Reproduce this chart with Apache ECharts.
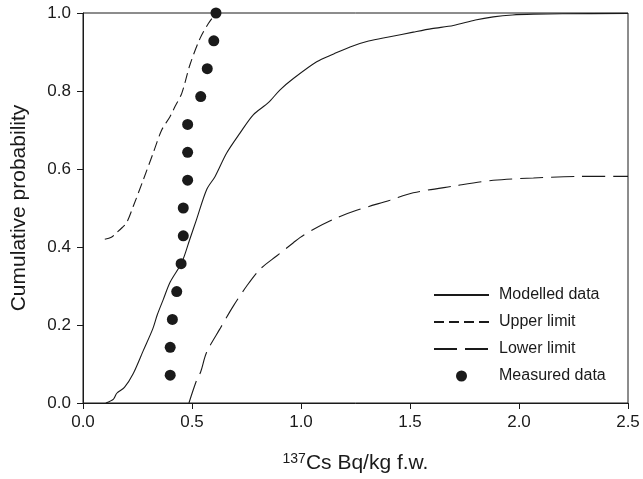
<!DOCTYPE html>
<html>
<head>
<meta charset="utf-8">
<script src="https://cdn.jsdelivr.net/npm/echarts@6/dist/echarts.min.js"></script>
<style>
  html, body { margin: 0; padding: 0; background: #fff; }
  #chart { width: 643px; height: 479px; }
</style>
</head>
<body>
<div id="chart"></div>
<script>
// Cumulative distribution of 137Cs activity: model output, its limits and measurements
var modelledX = [0.105, 0.14, 0.155, 0.19, 0.23, 0.277, 0.32, 0.34, 0.368, 0.40, 0.453, 0.49, 0.521, 0.567, 0.606, 0.659, 0.72, 0.781, 0.85, 0.904, 0.965, 1.072, 1.15, 1.225, 1.31, 1.408, 1.515, 1.60, 1.699, 1.80, 1.882, 1.97, 2.066, 2.2, 2.5];
var modelledY = [0.0, 0.01, 0.025, 0.04, 0.075, 0.135, 0.19, 0.225, 0.265, 0.31, 0.36, 0.42, 0.471, 0.547, 0.581, 0.641, 0.692, 0.739, 0.77, 0.803, 0.832, 0.875, 0.895, 0.913, 0.928, 0.939, 0.951, 0.96, 0.968, 0.982, 0.99, 0.995, 0.997, 0.998, 0.999];

var upperX = [0.1, 0.13, 0.155, 0.18, 0.2, 0.231, 0.277, 0.322, 0.361, 0.399, 0.422, 0.453, 0.491, 0.537, 0.575, 0.61];
var upperY = [0.42, 0.425, 0.437, 0.45, 0.462, 0.505, 0.573, 0.641, 0.70, 0.734, 0.76, 0.794, 0.868, 0.935, 0.973, 1.0];

var lowerX = [0.486, 0.521, 0.54, 0.567, 0.628, 0.69, 0.751, 0.812, 0.888, 0.965, 0.995, 1.056, 1.148, 1.255, 1.408, 1.515, 1.699, 1.882, 2.066, 2.28, 2.5];
var lowerY = [0.0, 0.058, 0.08, 0.13, 0.19, 0.249, 0.30, 0.343, 0.377, 0.411, 0.424, 0.445, 0.471, 0.494, 0.52, 0.539, 0.556, 0.571, 0.577, 0.581, 0.581];

var measuredX = [0.40, 0.40, 0.41, 0.43, 0.45, 0.46, 0.46, 0.48, 0.48, 0.48, 0.54, 0.57, 0.60, 0.61];
var measuredY = [0.0714, 0.1429, 0.2143, 0.2857, 0.3571, 0.4286, 0.5, 0.5714, 0.6429, 0.7143, 0.7857, 0.8571, 0.9286, 1.0];

var xTicks = [0.0, 0.5, 1.0, 1.5, 2.0, 2.5];
var yTicks = [0.0, 0.2, 0.4, 0.6, 0.8, 1.0];

function pairs(xs, ys) {
  return xs.map(function (x, i) { return [x, ys[i]]; });
}

var FONT = 'Liberation Sans, Arial, sans-serif';
var INK = '#1a1a1a';
var hideMarker = { opacity: 0 };

var chart = echarts.init(document.getElementById('chart'), null, { renderer: 'canvas' });

chart.setOption({
  animation: false,
  backgroundColor: '#fff',
  textStyle: { fontFamily: FONT, color: INK },
  grid: {
    left: 83, right: 15, top: 13, bottom: 75,
    show: true, borderColor: INK, borderWidth: 1, backgroundColor: 'transparent'
  },
  legend: {
    orient: 'vertical',
    left: 433,
    top: 287,
    padding: 0,
    itemWidth: 55,
    itemHeight: 11,
    itemGap: 11,
    textStyle: { fontFamily: FONT, fontSize: 16, color: INK, lineHeight: 14, padding: [0, 0, 0, 5] },
    data: [
      { name: 'Modelled data', itemStyle: hideMarker },
      { name: 'Upper limit', itemStyle: hideMarker },
      { name: 'Lower limit', itemStyle: hideMarker },
      { name: 'Measured data', itemStyle: { opacity: 1 } }
    ]
  },
  xAxis: {
    type: 'value',
    min: xTicks[0],
    max: xTicks[xTicks.length - 1],
    interval: 0.5,
    name: '{sup|137}{main|Cs Bq/kg f.w.}',
    nameLocation: 'middle',
    nameGap: 49,
    nameTextStyle: {
      rich: {
        sup: { fontFamily: FONT, fontSize: 14, color: INK, verticalAlign: 'bottom', padding: [0, 0, 9, 0] },
        main: { fontFamily: FONT, fontSize: 21, color: INK }
      }
    },
    axisLine: { show: true, onZero: false, lineStyle: { color: INK, width: 1 } },
    axisTick: { show: true, inside: false, length: 6, lineStyle: { color: INK } },
    axisLabel: {
      fontFamily: FONT, fontSize: 17, color: INK, margin: 11,
      formatter: function (v) { return v.toFixed(1); }
    },
    splitLine: { show: false }
  },
  yAxis: {
    type: 'value',
    min: yTicks[0],
    max: yTicks[yTicks.length - 1],
    interval: 0.2,
    name: 'Cumulative probability',
    nameLocation: 'middle',
    nameGap: 53,
    nameTextStyle: { fontFamily: FONT, fontSize: 21, color: INK },
    axisLine: { show: true, onZero: false, lineStyle: { color: INK, width: 1 } },
    axisTick: { show: true, inside: false, length: 6, lineStyle: { color: INK } },
    axisLabel: {
      fontFamily: FONT, fontSize: 17, color: INK, margin: 12,
      formatter: function (v) { return v.toFixed(1); }
    },
    splitLine: { show: false }
  },
  series: [
    {
      name: 'Modelled data',
      type: 'line',
      data: pairs(modelledX, modelledY),
      symbol: 'none',
      smooth: 0.3,
      lineStyle: { color: INK, width: 1.1, type: 'solid' },
      itemStyle: { color: INK }
    },
    {
      name: 'Upper limit',
      type: 'line',
      data: pairs(upperX, upperY),
      symbol: 'none',
      smooth: 0.3,
      lineStyle: { color: INK, width: 1.1, type: [10, 5] },
      itemStyle: { color: INK }
    },
    {
      name: 'Lower limit',
      type: 'line',
      data: pairs(lowerX, lowerY),
      symbol: 'none',
      smooth: 0.3,
      lineStyle: { color: INK, width: 1.1, type: [23, 8] },
      itemStyle: { color: INK }
    },
    {
      name: 'Measured data',
      type: 'scatter',
      data: pairs(measuredX, measuredY),
      symbol: 'circle',
      symbolSize: 11,
      itemStyle: { color: INK, opacity: 1 },
      z: 5
    }
  ]
});
</script>
</body>
</html>
